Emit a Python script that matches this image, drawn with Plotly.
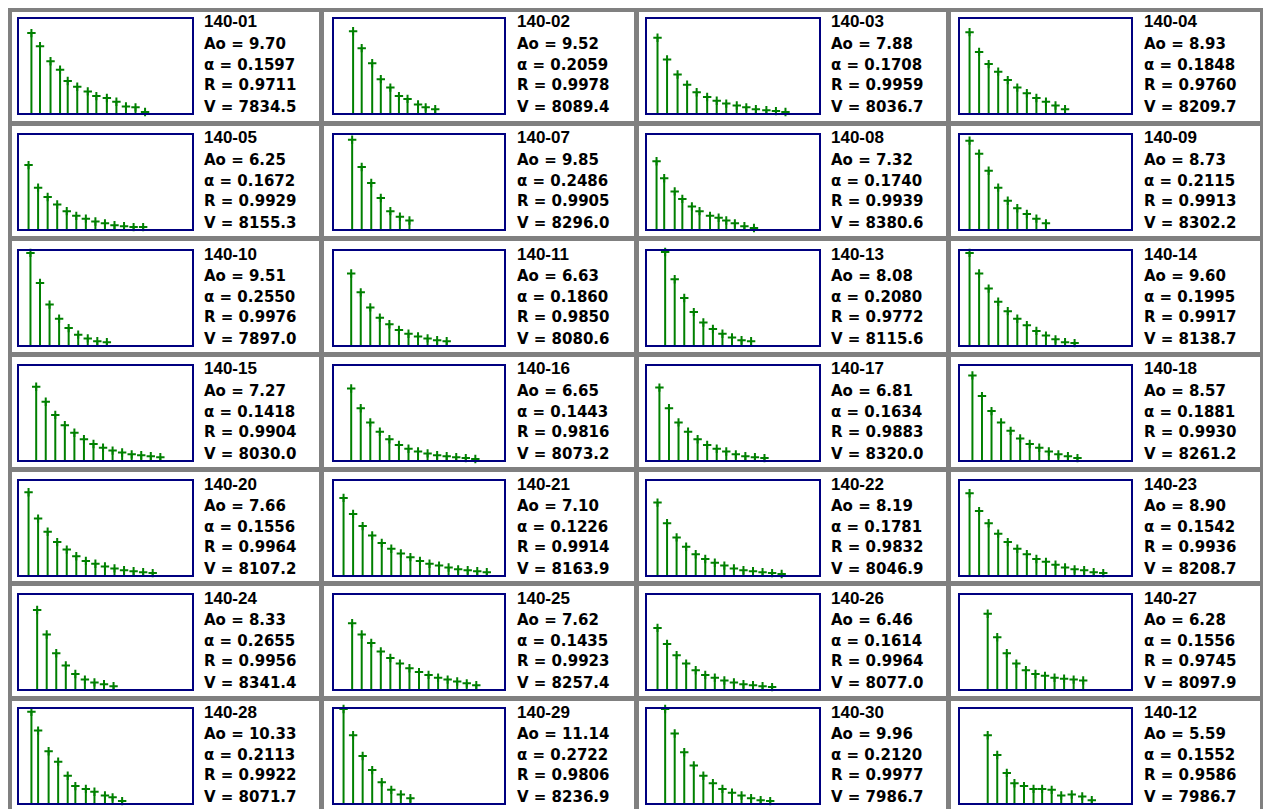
import plotly.graph_objects as go

# ---- sample identifiers and fitted parameters (grid order, 4 per row) ----
sample_ids = [
    "140-01", "140-02", "140-03", "140-04",
    "140-05", "140-07", "140-08", "140-09",
    "140-10", "140-11", "140-13", "140-14",
    "140-15", "140-16", "140-17", "140-18",
    "140-20", "140-21", "140-22", "140-23",
    "140-24", "140-25", "140-26", "140-27",
    "140-28", "140-29", "140-30", "140-12",
]
ao = [9.70, 9.52, 7.88, 8.93, 6.25, 9.85, 7.32, 8.73, 9.51, 6.63, 8.08, 9.60, 7.27, 6.65,
      6.81, 8.57, 7.66, 7.10, 8.19, 8.90, 8.33, 7.62, 6.46, 6.28, 10.33, 11.14, 9.96, 5.59]
alpha = [0.1597, 0.2059, 0.1708, 0.1848, 0.1672, 0.2486, 0.1740, 0.2115, 0.2550, 0.1860,
         0.2080, 0.1995, 0.1418, 0.1443, 0.1634, 0.1881, 0.1556, 0.1226, 0.1781, 0.1542,
         0.2655, 0.1435, 0.1614, 0.1556, 0.2113, 0.2722, 0.2120, 0.1552]
r_fit = [0.9711, 0.9978, 0.9959, 0.9760, 0.9929, 0.9905, 0.9939, 0.9913, 0.9976, 0.9850,
         0.9772, 0.9917, 0.9904, 0.9816, 0.9883, 0.9930, 0.9964, 0.9914, 0.9832, 0.9936,
         0.9956, 0.9923, 0.9964, 0.9745, 0.9922, 0.9806, 0.9977, 0.9586]
v_fit = [7834.5, 8089.4, 8036.7, 8209.7, 8155.3, 8296.0, 8380.6, 8302.2, 7897.0, 8080.6,
         8115.6, 8138.7, 8030.0, 8073.2, 8320.0, 8261.2, 8107.2, 8163.9, 8046.9, 8208.7,
         8341.4, 8257.4, 8077.0, 8097.9, 8071.7, 8236.9, 7986.7, 7986.7]

# ---- measured levels: sampling position t and level c for each sample ----
t_01 = [1.3, 2.2, 3.3, 4.3, 5.1, 6.1, 7.2, 8.1, 9.2, 10.2, 11.2, 12.2, 13.2]
c_01 = [8.5, 7.1, 5.5, 4.6, 3.4, 2.8, 2.3, 1.8, 1.6, 1.2, 0.7, 0.6, 0.1]
t_02 = [2.0, 2.9, 4.0, 4.9, 5.9, 6.8, 7.7, 8.8, 9.6, 10.6]
c_02 = [8.7, 6.9, 5.3, 3.6, 2.7, 1.8, 1.5, 0.9, 0.6, 0.4]
t_03 = [1.1, 2.1, 3.2, 4.2, 5.2, 6.3, 7.3, 8.3, 9.4, 10.4, 11.4, 12.5, 13.5, 14.5]
c_03 = [8.0, 5.7, 4.1, 3.0, 2.2, 1.7, 1.3, 1.0, 0.8, 0.6, 0.4, 0.3, 0.2, 0.1]
t_04 = [1.0, 2.0, 3.0, 4.0, 5.0, 6.0, 7.0, 8.0, 9.0, 10.0, 11.0]
c_04 = [8.6, 6.5, 5.2, 4.4, 3.5, 2.7, 2.1, 1.6, 1.2, 0.8, 0.4]
t_05 = [1.0, 2.0, 3.0, 4.0, 5.0, 6.0, 7.0, 8.0, 9.0, 10.0, 11.0, 12.0, 13.0]
c_05 = [6.8, 4.4, 3.4, 2.6, 1.9, 1.4, 1.1, 0.8, 0.6, 0.4, 0.3, 0.2, 0.2]
t_07 = [1.9, 2.9, 3.9, 4.9, 5.9, 6.9, 7.9]
c_07 = [9.5, 6.6, 4.9, 3.3, 1.9, 1.3, 0.9]
t_08 = [1.0, 1.8, 2.9, 3.7, 4.7, 5.5, 6.6, 7.5, 8.3, 9.2, 10.2, 11.2]
c_08 = [7.2, 5.4, 4.0, 3.2, 2.4, 1.9, 1.4, 1.2, 0.9, 0.6, 0.3, 0.1]
t_09 = [1.0, 2.0, 3.0, 4.0, 5.0, 6.0, 7.0, 8.0, 9.0]
c_09 = [9.4, 8.0, 6.2, 4.4, 3.0, 2.2, 1.6, 1.1, 0.6]
t_10 = [1.2, 2.2, 3.2, 4.2, 5.2, 6.2, 7.2, 8.2, 9.2]
c_10 = [9.8, 6.6, 4.3, 2.8, 1.8, 1.1, 0.7, 0.4, 0.3]
t_11 = [1.8, 2.8, 3.8, 4.8, 5.8, 6.8, 7.8, 8.8, 9.8, 10.8, 11.8]
c_11 = [7.6, 5.6, 4.0, 2.9, 2.2, 1.6, 1.2, 0.9, 0.7, 0.5, 0.4]
t_13 = [1.9, 2.9, 3.9, 4.9, 5.9, 6.9, 7.9, 8.9, 9.9, 10.9]
c_13 = [9.9, 7.0, 5.0, 3.5, 2.4, 1.7, 1.2, 0.8, 0.5, 0.4]
t_14 = [1.0, 2.0, 3.0, 4.0, 5.0, 6.0, 7.0, 8.0, 9.0, 10.0, 11.0, 12.0]
c_14 = [9.8, 7.6, 6.0, 4.6, 3.6, 2.8, 2.1, 1.5, 1.0, 0.6, 0.3, 0.2]
t_15 = [1.8, 2.8, 3.8, 4.8, 5.8, 6.8, 7.8, 8.8, 9.8, 10.8, 11.8, 12.8, 13.8, 14.8]
c_15 = [7.8, 6.2, 4.8, 3.7, 2.9, 2.2, 1.7, 1.3, 1.0, 0.8, 0.6, 0.5, 0.4, 0.3]
t_16 = [1.8, 2.8, 3.8, 4.8, 5.8, 6.8, 7.8, 8.8, 9.8, 10.8, 11.8, 12.8, 13.8, 14.8]
c_16 = [7.6, 5.5, 4.0, 3.0, 2.2, 1.6, 1.2, 0.9, 0.7, 0.5, 0.4, 0.3, 0.2, 0.1]
t_17 = [1.3, 2.3, 3.3, 4.3, 5.3, 6.3, 7.3, 8.3, 9.3, 10.3, 11.3, 12.3]
c_17 = [7.7, 5.5, 4.0, 3.0, 2.2, 1.6, 1.2, 0.9, 0.6, 0.4, 0.3, 0.2]
t_18 = [1.3, 2.3, 3.3, 4.3, 5.3, 6.3, 7.3, 8.3, 9.3, 10.3, 11.3, 12.3]
c_18 = [9.0, 6.8, 5.2, 4.0, 3.1, 2.3, 1.7, 1.3, 0.9, 0.6, 0.4, 0.2]
t_20 = [1.0, 2.0, 3.0, 4.0, 5.0, 6.0, 7.0, 8.0, 9.0, 10.0, 11.0, 12.0, 13.0, 14.0]
c_20 = [8.8, 6.0, 4.6, 3.5, 2.7, 2.0, 1.5, 1.2, 0.9, 0.7, 0.5, 0.4, 0.3, 0.2]
t_21 = [1.0, 2.0, 3.0, 4.0, 5.0, 6.0, 7.0, 8.0, 9.0, 10.0, 11.0, 12.0, 13.0, 14.0, 15.0, 16.0]
c_21 = [8.2, 6.5, 5.2, 4.2, 3.4, 2.8, 2.3, 1.9, 1.5, 1.2, 1.0, 0.8, 0.6, 0.5, 0.4, 0.3]
t_22 = [1.1, 2.1, 3.1, 4.1, 5.1, 6.1, 7.1, 8.1, 9.1, 10.1, 11.1, 12.1, 13.1, 14.1]
c_22 = [7.7, 5.5, 4.0, 3.0, 2.2, 1.7, 1.3, 1.0, 0.7, 0.5, 0.4, 0.3, 0.2, 0.1]
t_23 = [1.0, 2.0, 3.0, 4.0, 5.0, 6.0, 7.0, 8.0, 9.0, 10.0, 11.0, 12.0, 13.0, 14.0, 15.0]
c_23 = [8.7, 6.8, 5.5, 4.4, 3.5, 2.8, 2.2, 1.7, 1.4, 1.1, 0.8, 0.6, 0.5, 0.3, 0.2]
t_24 = [1.9, 2.9, 3.9, 4.9, 5.9, 6.9, 7.9, 8.9, 9.9]
c_24 = [8.4, 5.8, 3.8, 2.5, 1.6, 1.0, 0.7, 0.5, 0.3]
t_25 = [1.9, 2.9, 3.9, 4.9, 5.9, 6.9, 7.9, 8.9, 9.9, 10.9, 11.9, 12.9, 13.9, 14.9]
c_25 = [7.0, 5.8, 4.9, 4.0, 3.3, 2.7, 2.2, 1.8, 1.5, 1.2, 1.0, 0.8, 0.6, 0.4]
t_26 = [1.1, 2.1, 3.1, 4.1, 5.1, 6.1, 7.1, 8.1, 9.1, 10.1, 11.1, 12.1, 13.1]
c_26 = [6.5, 4.8, 3.6, 2.7, 2.0, 1.5, 1.2, 0.9, 0.7, 0.5, 0.4, 0.3, 0.2]
t_27 = [2.9, 3.9, 4.9, 5.9, 6.9, 7.9, 8.9, 9.9, 10.9, 11.9, 12.9]
c_27 = [8.0, 5.5, 3.8, 2.7, 2.0, 1.6, 1.4, 1.2, 1.1, 1.0, 0.9]
t_28 = [1.3, 2.0, 3.1, 4.1, 5.1, 5.9, 7.0, 7.9, 9.0, 9.8, 10.8]
c_28 = [9.7, 7.7, 5.5, 4.4, 2.9, 1.8, 1.5, 1.2, 0.8, 0.6, 0.2]
t_29 = [1.0, 2.0, 3.0, 4.0, 5.0, 6.0, 7.0, 8.0]
c_29 = [10.0, 7.2, 5.0, 3.5, 2.2, 1.4, 0.9, 0.5]
t_30 = [1.9, 2.9, 3.9, 4.9, 5.9, 6.9, 7.9, 8.9, 9.9, 10.9, 11.9, 12.9]
c_30 = [10.0, 7.4, 5.4, 4.0, 2.9, 2.1, 1.5, 1.1, 0.8, 0.5, 0.3, 0.2]
t_12 = [2.9, 3.9, 4.9, 5.7, 6.7, 7.7, 8.6, 9.6, 10.6, 11.7, 12.8, 13.8]
c_12 = [7.2, 5.1, 3.2, 2.1, 1.8, 1.5, 1.5, 1.4, 0.8, 0.9, 0.7, 0.3]

samples = [
    (t_01, c_01), (t_02, c_02), (t_03, c_03), (t_04, c_04),
    (t_05, c_05), (t_07, c_07), (t_08, c_08), (t_09, c_09),
    (t_10, c_10), (t_11, c_11), (t_13, c_13), (t_14, c_14),
    (t_15, c_15), (t_16, c_16), (t_17, c_17), (t_18, c_18),
    (t_20, c_20), (t_21, c_21), (t_22, c_22), (t_23, c_23),
    (t_24, c_24), (t_25, c_25), (t_26, c_26), (t_27, c_27),
    (t_28, c_28), (t_29, c_29), (t_30, c_30), (t_12, c_12),
]

# ---- page geometry (pixels) ----
W, H = 1263, 809
GRAY = "#808080"
NAVY = "#000080"
GREEN = "#008000"
FONT = "DejaVu Sans"
TITLE_FONT = "Liberation Sans"

COL_PLOT_LEFT = [19, 334, 647, 960]
COL_PLOT_W = [173, 170, 172, 171]
COL_TEXT_LEFT = [202, 515, 829, 1142]
ROW_PLOT_TOP = [19, 135, 251, 366, 481, 595, 709]
PLOT_H = 94
PX_PER_T = 9.55
PX_PER_C = 9.4

V_BANDS = [(8, 12), (319, 324), (634, 639), (946, 951), (1260, 1263)]
H_BANDS = [(8, 12), (121, 126), (236, 241), (352, 357), (467, 472), (581, 586), (696, 701)]
TEXT_DY = [5, 27, 48, 68, 90]


def px_x(px):
    return px / W


def px_y(py):
    return 1 - py / H


fig = go.Figure()
layout_axes = {}
annotations = []

for k, sid in enumerate(sample_ids):
    row, col = divmod(k, 4)
    t, c = samples[k]
    n = k + 1
    xname = "x" if n == 1 else f"x{n}"
    yname = "y" if n == 1 else f"y{n}"

    stem_x, stem_y = [], []
    for ti, ci in zip(t, c):
        stem_x += [ti, ti, None]
        stem_y += [0, ci, None]
    fig.add_trace(go.Scatter(
        x=stem_x, y=stem_y, mode="lines",
        line=dict(color=GREEN, width=2),
        xaxis=xname, yaxis=yname, hoverinfo="skip", showlegend=False,
    ))
    fig.add_trace(go.Scatter(
        x=t, y=c, mode="markers",
        marker=dict(symbol="cross-thin", size=6, color=GREEN,
                    line=dict(color=GREEN, width=2)),
        xaxis=xname, yaxis=yname, showlegend=False, cliponaxis=False,
    ))

    left = COL_PLOT_LEFT[col]
    width = COL_PLOT_W[col]
    top = ROW_PLOT_TOP[row]
    axis_style = dict(showline=True, mirror=True, linecolor=NAVY, linewidth=2,
                      showgrid=False, zeroline=False, ticks="",
                      showticklabels=False, fixedrange=True)
    layout_axes["xaxis" if n == 1 else f"xaxis{n}"] = dict(
        domain=[px_x(left), px_x(left + width)],
        range=[0, width / PX_PER_T], anchor=yname, **axis_style)
    layout_axes["yaxis" if n == 1 else f"yaxis{n}"] = dict(
        domain=[px_y(top + PLOT_H), px_y(top)],
        range=[0, PLOT_H / PX_PER_C], anchor=xname, **axis_style)

    lines = [
        f"Ao = {ao[k]:.2f}",
        f"α = {alpha[k]:.4f}",
        f"R = {r_fit[k]:.4f}",
        f"V = {v_fit[k]:.1f}",
    ]
    box_top = top - 2
    annotations.append(dict(
        text=f"<b>{sid}</b>", x=px_x(COL_TEXT_LEFT[col]), y=px_y(box_top + TEXT_DY[0]),
        xref="paper", yref="paper", xanchor="left", yanchor="middle",
        showarrow=False, font=dict(family=TITLE_FONT, size=17, color="black"),
    ))
    for txt, dy in zip(lines, TEXT_DY[1:]):
        annotations.append(dict(
            text=f"<b>{txt}</b>", x=px_x(COL_TEXT_LEFT[col]), y=px_y(box_top + dy),
            xref="paper", yref="paper", xanchor="left", yanchor="middle",
            showarrow=False, font=dict(family=FONT, size=15, color="black"),
        ))

shapes = []
for x0, x1 in V_BANDS:
    shapes.append(dict(type="rect", xref="paper", yref="paper",
                       x0=px_x(x0), x1=px_x(x1), y0=0, y1=px_y(8),
                       fillcolor=GRAY, line=dict(width=0)))
for y0, y1 in H_BANDS:
    shapes.append(dict(type="rect", xref="paper", yref="paper",
                       x0=px_x(8), x1=px_x(1263), y0=px_y(y1), y1=px_y(y0),
                       fillcolor=GRAY, line=dict(width=0)))

fig.update_layout(
    width=W, height=H, margin=dict(l=0, r=0, t=0, b=0),
    paper_bgcolor="white", plot_bgcolor="white",
    shapes=shapes, annotations=annotations, showlegend=False,
    **layout_axes,
)

fig.write_html("out.html", config={"displayModeBar": False})
